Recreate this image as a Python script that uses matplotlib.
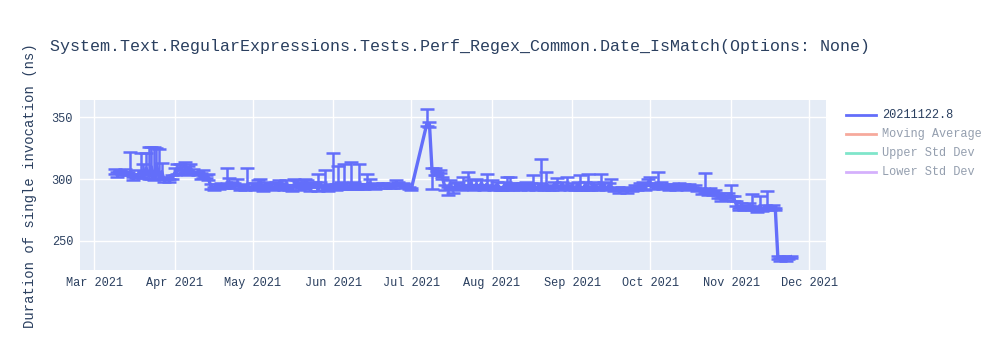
import numpy as np
import pandas as pd
import matplotlib

matplotlib.use("Agg")
import matplotlib.pyplot as plt
import matplotlib.dates as mdates
from matplotlib.lines import Line2D

TITLE = "System.Text.RegularExpressions.Tests.Perf_Regex_Common.Date_IsMatch(Options: None)"
Y_LABEL = "Duration of single invocation (ns)"
LEGEND_NAMES = ["20211122.8", "Moving Average", "Upper Std Dev", "Lower Std Dev"]
LEGEND_COLORS = ["#636efa", "#EF553B", "#00cc96", "#ab63fa"]
LEGEND_VISIBLE = [True, False, False, False]

# one run per day, mean duration (ns) and error bar up / down
dates = (
    [f"2021-03-{d:02d}" for d in range(9, 32)]
    + [f"2021-04-{d:02d}" for d in range(1, 31)]
    + [f"2021-05-{d:02d}" for d in range(1, 32)]
    + [f"2021-06-{d:02d}" for d in range(1, 31)]
    + ["2021-07-01", "2021-07-07", "2021-07-08", "2021-07-09", "2021-07-10",
       "2021-07-11", "2021-07-12", "2021-07-13", "2021-07-14"]
    + [f"2021-07-{d:02d}" for d in range(15, 32)]
    + [f"2021-08-{d:02d}" for d in range(1, 32)]
    + [f"2021-09-{d:02d}" for d in range(1, 31)]
    + [f"2021-10-{d:02d}" for d in range(1, 32)]
    + [f"2021-11-{d:02d}" for d in range(1, 25)]
)

mean_ns = [
    # Mar 9-31
    306, 303, 306, 304, 307, 304, 306, 300, 302, 304, 306, 302, 309, 303, 310, 300,
    312, 301, 306, 299, 301, 299, 301,
    # Apr
    305, 307, 309, 306, 308, 306, 309, 306, 305, 304, 301, 303, 302, 300, 294, 292,
    295, 293, 296, 294, 296, 295, 297, 295, 296, 293, 294, 292, 295, 293,
    # May
    295, 292, 296, 293, 292, 296, 293, 295, 292, 296, 293, 295, 292, 296, 293, 292,
    295, 296, 292, 295, 293, 296, 292, 295, 296, 292, 295, 292, 296, 291, 294,
    # Jun
    296, 293, 297, 293, 296, 294, 293, 297, 294, 293, 297, 294, 293, 296, 297, 294,
    293, 296, 294, 296, 294, 296, 294, 294, 297, 296, 294, 296, 295, 293,
    # Jul 1-14
    292, 345, 344, 306, 307, 305, 306, 301, 293,
    # Jul 15-31
    292, 296, 291, 295, 296, 292, 296, 293, 295, 297, 292, 296, 293, 297, 292, 296, 293,
    # Aug
    295, 292, 296, 293, 292, 296, 293, 296, 292, 295, 296, 292, 295, 296, 292, 295,
    296, 292, 295, 296, 292, 296, 293, 292, 296, 295, 292, 296, 293, 295, 292,
    # Sep
    295, 292, 296, 293, 292, 296, 293, 292, 296, 294, 292, 295, 296, 292, 295, 293,
    291, 293, 290, 292, 293, 290, 292, 291, 294, 292, 295, 296, 293, 297,
    # Oct
    297, 294, 295, 297, 296, 293, 295, 292, 295, 294, 292, 296, 293, 295, 292, 295,
    293, 294, 291, 292, 289, 291, 289, 292, 288, 290, 286, 284, 287, 284, 287,
    # Nov 1-24
    288, 284, 280, 276, 279, 276, 277, 279, 276, 277, 274, 278, 275, 278, 277, 276,
    278, 276, 236, 235, 237, 235, 236, 237,
]

err_up = [
    2, 3, 1, 2, 1, 2, 16, 2, 2, 3, 15, 10, 12, 23, 16, 26,
    13, 23, 7, 2, 1, 1, 2,
    4, 5, 3, 4, 6, 5, 3, 2, 1, 2, 4, 4, 1, 4, 2, 2,
    1, 1, 1, 1, 13, 6, 1, 2, 4, 2, 2, 1, 14, 1,
    2, 5, 3, 7, 2, 2, 3, 2, 2, 2, 6, 2, 3, 3, 2, 2,
    5, 3, 6, 2, 7, 3, 3, 2, 2, 12, 3, 3, 11, 2, 2,
    25, 3, 14, 5, 16, 3, 2, 17, 4, 3, 15, 2, 3, 8, 3, 2,
    2, 1, 1, 1, 1, 1, 1, 1, 2, 2, 1, 1, 1, 1,
    1, 12, 2, 3, 2, 1, 1, 1, 2,
    2, 3, 2, 2, 2, 2, 6, 2, 11, 2, 2, 4, 2, 2, 2, 8, 2,
    4, 2, 2, 1, 2, 2, 9, 6, 2, 2, 1, 2, 2, 2, 1, 2,
    7, 2, 2, 20, 2, 10, 2, 2, 2, 6, 2, 2, 2, 7, 2,
    2, 2, 2, 10, 2, 2, 11, 2, 2, 2, 2, 9, 2, 2, 2, 7,
    2, 1, 1, 1, 1, 1, 1, 1, 1, 2, 2, 2, 2, 3,
    5, 3, 2, 9, 2, 1, 1, 1, 1, 1, 1, 1, 1, 1, 1, 1,
    1, 1, 1, 1, 2, 14, 2, 1, 2, 1, 1, 1, 2, 1, 2,
    7, 2, 2, 1, 2, 1, 1, 2, 12, 1, 1, 8, 1, 1, 13, 2,
    1, 1, 2, 1, 1, 1, 1, 1,
]

err_down = [
    2, 1, 1, 1, 1, 1, 2, 1, 1, 2, 4, 1, 6, 3, 10, 1,
    12, 1, 6, 1, 1, 1, 1,
    2, 3, 2, 2, 2, 3, 3, 2, 1, 1, 1, 2, 1, 1, 2, 1,
    1, 1, 1, 1, 2, 2, 2, 2, 1, 2, 1, 1, 1, 1,
    1, 1, 2, 1, 2, 1, 1, 2, 1, 2, 1, 2, 1, 1, 2, 2,
    1, 1, 1, 2, 1, 2, 2, 1, 1, 2, 1, 1, 1, 1, 1,
    2, 2, 3, 1, 3, 2, 1, 3, 2, 1, 3, 2, 1, 2, 2, 1,
    1, 1, 1, 1, 1, 1, 1, 1, 1, 1, 1, 1, 1, 1,
    1, 2, 2, 14, 4, 2, 1, 1, 2,
    5, 4, 2, 1, 2, 1, 3, 1, 2, 2, 1, 2, 1, 2, 1, 2, 1,
    2, 1, 2, 2, 1, 2, 2, 2, 1, 2, 1, 1, 2, 1, 1, 2,
    2, 1, 2, 2, 1, 2, 2, 1, 2, 1, 1, 2, 1, 2, 1,
    2, 1, 2, 2, 1, 2, 2, 1, 2, 1, 1, 2, 2, 1, 2, 1,
    1, 2, 1, 1, 1, 1, 1, 1, 1, 1, 2, 1, 2, 2,
    2, 2, 1, 2, 2, 1, 1, 1, 1, 1, 1, 1, 1, 1, 1, 1,
    1, 1, 1, 1, 1, 2, 2, 2, 1, 1, 1, 2, 1, 1, 1,
    2, 2, 2, 1, 1, 1, 1, 1, 1, 1, 1, 1, 1, 1, 1, 1,
    1, 1, 1, 1, 1, 1, 1, 1,
]

x_start, x_end = "2021-02-23 14:00", "2021-12-07 12:00"
y_min, y_max = 226.5, 364


def main():
    x = pd.to_datetime(dates)
    y = np.array(mean_ns, dtype=float)
    yerr = np.vstack([err_down, err_up])

    plt.rcParams["font.family"] = ["Liberation Mono", "DejaVu Sans"]
    text_color = "#2a3f5f"

    fig = plt.figure(figsize=(10, 3.5), dpi=100)
    ax = fig.add_axes([0.08, 0.229, 0.746, 0.485])
    ax.set_facecolor("#E5ECF6")

    ax.errorbar(x, y, yerr=yerr, color=LEGEND_COLORS[0], lw=2.4, elinewidth=1.8,
                capsize=5, capthick=1.8, zorder=3)

    ax.set_xlim(pd.Timestamp(x_start), pd.Timestamp(x_end))
    ax.set_ylim(y_min, y_max)
    ax.set_yticks([250, 300, 350])
    ax.xaxis.set_major_locator(mdates.MonthLocator())
    ax.xaxis.set_major_formatter(mdates.DateFormatter("%b %Y"))

    ax.grid(True, color="white", lw=1)
    ax.set_axisbelow(True)
    for s in ax.spines.values():
        s.set_visible(False)
    ax.tick_params(length=0, labelsize=8.6, colors=text_color, pad=5)

    fig.text(0.03, 0.469, Y_LABEL, rotation=90, ha="center", va="center",
             fontsize=10, color=text_color)
    fig.text(0.05, 0.868, TITLE, ha="left", va="center", fontsize=12,
             color=text_color)

    # legend, as plotly draws it (hidden traces faded)
    for i, (name, col, vis) in enumerate(zip(LEGEND_NAMES, LEGEND_COLORS, LEGEND_VISIBLE)):
        yy = 1 - (115 + 19 * i) / 350
        alpha = 1.0 if vis else 0.5
        fig.add_artist(Line2D([0.846, 0.876], [yy, yy], color=col, lw=2, alpha=alpha,
                              transform=fig.transFigure))
        fig.text(0.882, yy, name, ha="left", va="center", fontsize=8.6,
                 color=text_color, alpha=alpha)

    fig.savefig("out.png", dpi=100)


if __name__ == "__main__":
    main()
